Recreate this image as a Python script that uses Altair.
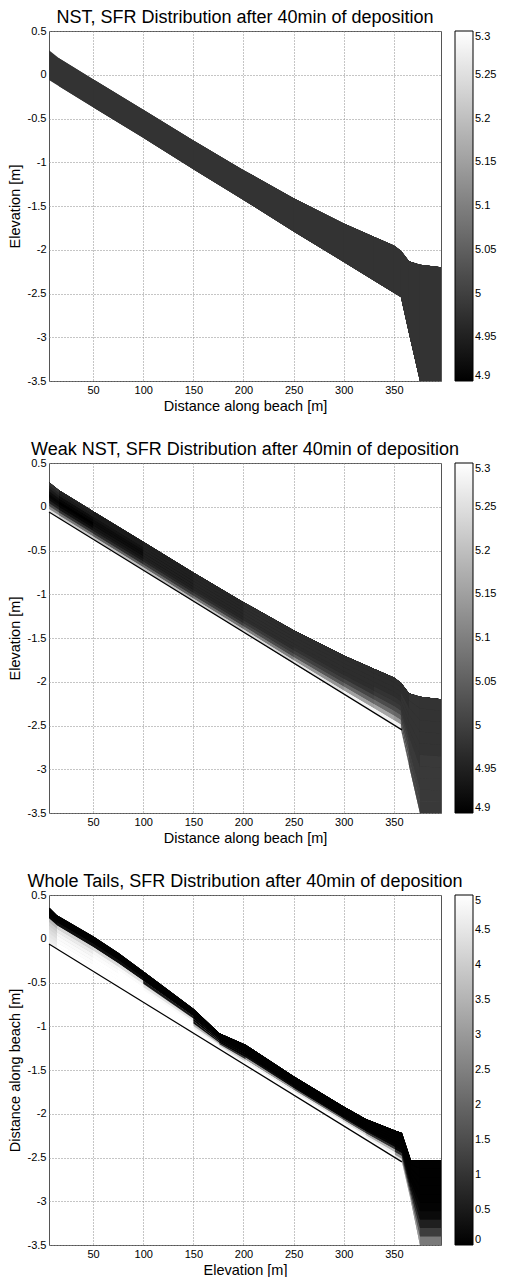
import altair as alt
import pandas as pd

FONT = "Liberation Sans"

# ---------------- geometry ----------------
# Panels 1 and 2 share the deposit outline
X12 = [6, 16, 50, 100, 150, 200, 250, 300, 330, 350, 357, 365, 376, 397]
TOP12 = [0.28, 0.19, -0.05, -0.40, -0.75, -1.09, -1.41, -1.70, -1.85, -1.95, -2.01, -2.13, -2.17, -2.20]
BOT12 = [-0.06, -0.13, -0.37, -0.72, -1.08, -1.43, -1.79, -2.14, -2.35, -2.49, -2.54, -2.95, -3.50, -3.50]

# Panel 3 outline
X3 = [6, 14, 50, 75, 100, 150, 176, 202, 250, 299, 322, 351, 358, 367, 376, 397]
TOP3 = [0.36, 0.27, 0.03, -0.16, -0.37, -0.80, -1.08, -1.21, -1.57, -1.91, -2.06, -2.19, -2.22, -2.53, -2.53, -2.53]
BOT3 = [-0.06, -0.12, -0.37, -0.55, -0.73, -1.08, -1.26, -1.45, -1.79, -2.13, -2.29, -2.50, -2.55, -3.00, -3.50, -3.50]

# original beach profile (black line)
PROF_X = [6, 358]
PROF_Y = [-0.06, -2.55]

# ---------------- SFR values (per segment, layers bottom -> top) ----------------
NST_VALUE = 4.98

VAL2 = [
    [5.25, 5.12, 5.02, 4.95, 4.92, 4.91, 4.92, 4.94, 4.96, 4.98],
    [5.22, 5.08, 4.98, 4.93, 4.91, 4.90, 4.91, 4.92, 4.94, 4.95],
    [5.20, 5.05, 4.97, 4.94, 4.93, 4.92, 4.92, 4.93, 4.94, 4.94],
    [5.20, 5.06, 4.99, 4.96, 4.95, 4.95, 4.95, 4.95, 4.95, 4.95],
    [5.22, 5.08, 5.00, 4.97, 4.96, 4.96, 4.96, 4.96, 4.96, 4.96],
    [5.24, 5.10, 5.02, 4.99, 4.97, 4.97, 4.97, 4.97, 4.97, 4.97],
    [5.26, 5.13, 5.04, 5.00, 4.98, 4.97, 4.97, 4.97, 4.97, 4.97],
    [5.28, 5.15, 5.06, 5.01, 4.98, 4.97, 4.97, 4.97, 4.97, 4.97],
    [5.28, 5.16, 5.07, 5.02, 4.99, 4.98, 4.97, 4.97, 4.97, 4.97],
    [5.28, 5.14, 5.06, 5.02, 4.99, 4.98, 4.97, 4.97, 4.97, 4.97],
    [5.04, 5.02, 5.00, 4.99, 4.98, 4.98, 4.98, 4.98, 4.97, 4.97],
    [5.01, 5.00, 4.99, 4.99, 4.98, 4.98, 4.98, 4.98, 4.98, 4.98],
    [4.99, 4.99, 4.99, 4.99, 4.99, 4.98, 4.98, 4.98, 4.98, 4.98],
]

VAL3 = [
    [4.70, 4.60, 4.50, 4.35, 4.20, 4.00, 3.60, 0.10, 0.02, 0.02],
    [5.00, 5.00, 4.95, 4.90, 4.80, 4.60, 4.20, 0.30, 0.02, 0.02],
    [5.00, 5.00, 5.00, 5.00, 4.95, 4.85, 4.30, 0.30, 0.02, 0.02],
    [5.00, 5.00, 5.00, 5.00, 5.00, 4.90, 4.40, 0.30, 0.02, 0.02],
    [5.00, 5.00, 5.00, 5.00, 4.90, 4.40, 0.50, 0.02, 0.02, 0.02],
    [5.00, 5.00, 4.70, 3.50, 0.30, 0.02, 0.02, 0.02, 0.02, 0.02],
    [5.00, 4.80, 4.00, 1.00, 0.05, 0.02, 0.02, 0.02, 0.02, 0.02],
    [5.00, 5.00, 4.70, 3.00, 0.30, 0.02, 0.02, 0.02, 0.02, 0.02],
    [5.00, 5.00, 4.50, 2.00, 0.10, 0.02, 0.02, 0.02, 0.02, 0.02],
    [5.00, 4.90, 4.20, 1.50, 0.10, 0.02, 0.02, 0.02, 0.02, 0.02],
    [5.00, 4.70, 3.50, 1.00, 0.10, 0.02, 0.02, 0.02, 0.02, 0.02],
    [4.50, 3.00, 1.00, 0.10, 0.02, 0.02, 0.02, 0.02, 0.02, 0.02],
    [3.00, 1.50, 0.60, 0.20, 0.05, 0.02, 0.02, 0.02, 0.02, 0.02],
    [3.00, 1.80, 0.80, 0.30, 0.10, 0.02, 0.02, 0.02, 0.02, 0.02],
    [2.40, 1.20, 0.60, 0.20, 0.05, 0.02, 0.02, 0.02, 0.02, 0.02],
]

TITLES = [
    "NST, SFR Distribution after 40min of deposition",
    "Weak NST, SFR Distribution after 40min of deposition",
    "Whole Tails, SFR Distribution after 40min of deposition",
]
X_TICKS = [50, 100, 150, 200, 250, 300, 350]
Y_TICKS = [0.5, 0, -0.5, -1, -1.5, -2, -2.5, -3, -3.5]
CB12_TICKS = [4.9, 4.95, 5, 5.05, 5.1, 5.15, 5.2, 5.25, 5.3]
CB3_TICKS = [0, 0.5, 1, 1.5, 2, 2.5, 3, 3.5, 4, 4.5, 5]

W, H = 392, 350


def cells(xs, tops, bots, vals, tag):
    """Cell (s, k) starts at station s and runs to the right end; later cells
    cover earlier ones, so only its own segment stays visible (no seams)."""
    rows = []
    m = len(xs)
    for s in range(m - 1):
        layers = vals[s]
        n = len(layers)
        for k, v in enumerate(layers):
            cid = f"{tag}{s:02d}{k:02d}"
            for i in range(s, m):
                t, b = tops[i], bots[i]
                upper = t if s == 0 else b + (k + 1) / n * (t - b)
                rows.append({
                    "x": xs[i],
                    "y": upper,
                    "y2": b + k / n * (t - b),
                    "v": v,
                    "cell": cid,
                })
    return pd.DataFrame(rows)


def panel(df, title, cdomain, cticks, xtitle, ytitle, with_profile):
    cscale = alt.Scale(domain=cdomain, range=["#000000", "#ffffff"], interpolate="rgb")
    xax = alt.Axis(values=X_TICKS, title=xtitle, labelExpr="toString(datum.value)")
    yax = alt.Axis(values=Y_TICKS, title=ytitle, labelExpr="toString(datum.value)")
    xenc = alt.X("x:Q", scale=alt.Scale(domain=[6, 397], nice=False, zero=False), axis=xax)
    yenc = alt.Y("y:Q", scale=alt.Scale(domain=[-3.5, 0.5], nice=False, zero=False), axis=yax)
    area = alt.Chart(df).mark_area(clip=True).encode(
        x=xenc,
        y=yenc,
        y2="y2:Q",
        detail="cell:N",
        color=alt.Color(
            "v:Q",
            scale=cscale,
            legend=alt.Legend(
                type="gradient",
                direction="vertical",
                title=None,
                values=cticks,
                gradientLength=H,
                gradientThickness=18,
                gradientStrokeColor="#000000",
                gradientStrokeWidth=1,
                labelFont=FONT,
                labelFontSize=11,
                labelColor="#000000",
                labelOffset=2,
                labelOverlap=False,
                labelBaseline="middle",
                labelExpr="toString(datum.value)",
                offset=14,
            ),
        ),
    )
    layers = [area]
    if with_profile:
        prof = pd.DataFrame({"x": PROF_X, "y": PROF_Y})
        line = alt.Chart(prof).mark_line(color="#000000", strokeWidth=1.2).encode(
            x=alt.X("x:Q"), y=alt.Y("y:Q")
        )
        layers.append(line)
    return alt.layer(*layers).properties(
        width=W, height=H,
        title=alt.TitleParams(title, fontSize=18, font=FONT, fontWeight="normal",
                              color="#000000", anchor="middle", offset=-2),
    )


df1 = cells(X12, TOP12, BOT12, [[NST_VALUE] for _ in range(len(X12) - 1)], "a")
df2 = cells(X12, TOP12, BOT12, VAL2, "b")
df3 = cells(X3, TOP3, BOT3, VAL3, "c")

p1 = panel(df1, TITLES[0], [4.9, 5.3], CB12_TICKS, "Distance along beach [m]", "Elevation [m]", False)
p2 = panel(df2, TITLES[1], [4.9, 5.3], CB12_TICKS, "Distance along beach [m]", "Elevation [m]", True)
p3 = panel(df3, TITLES[2], [0, 5], CB3_TICKS, "Elevation [m]", "Distance along beach [m]", True)

chart = alt.vconcat(p1, p2, p3, spacing=27).resolve_scale(
    color="independent", x="independent", y="independent"
).properties(
    padding={"left": -2, "top": 0, "right": 0, "bottom": 0}
).configure_view(
    stroke="#555555", strokeWidth=1
).configure_axis(
    labelFont=FONT, labelFontSize=11, labelColor="#000000", labelPadding=3,
    titleFont=FONT, titleFontSize=14.5, titleFontWeight="normal", titleColor="#000000",
    titlePadding=4, grid=True, gridDash=[1, 2], gridColor="#8a8a8a", gridWidth=1,
    ticks=False, domain=False,
).configure_axisY(titlePadding=5)

chart.save("out.html", embed_options={"renderer": "svg", "actions": False})
